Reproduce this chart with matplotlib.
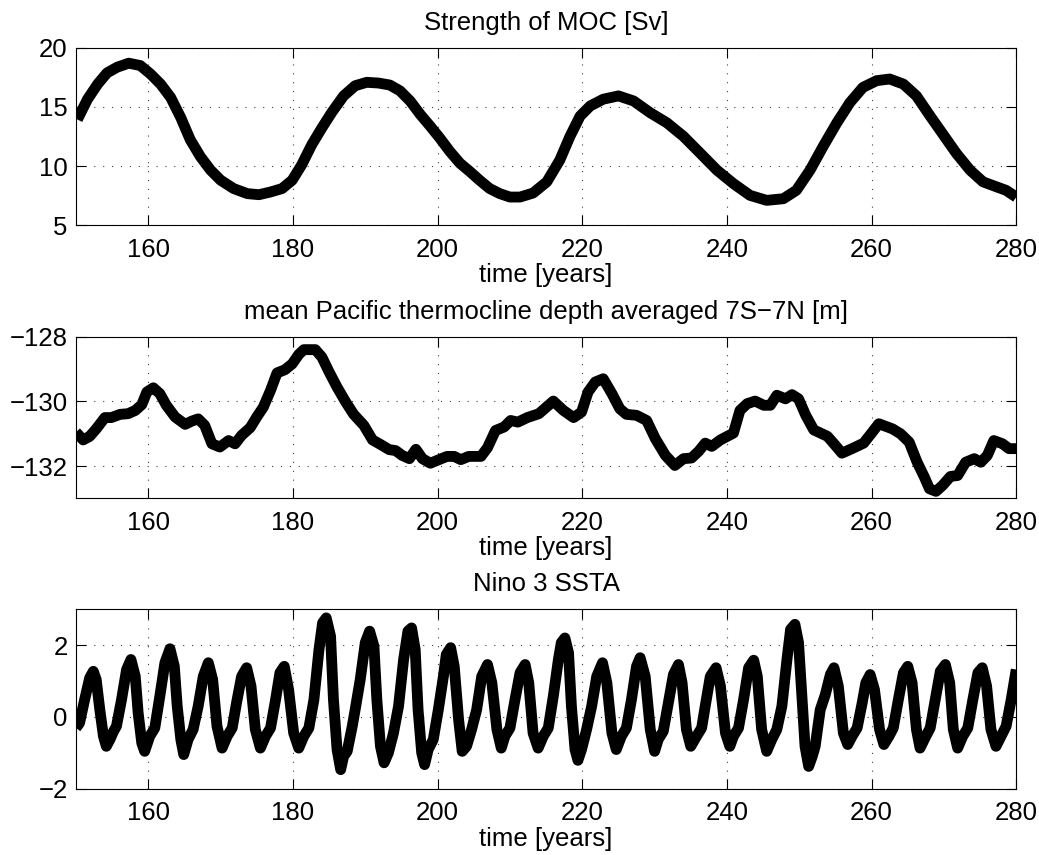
import matplotlib.pyplot as plt

plt.rcParams['font.family'] = ['Liberation Sans', 'DejaVu Sans']

# Strength of MOC [Sv]
moc_years = [150.2, 151.6, 153.0, 154.3, 155.7, 157.3, 158.9, 160.3, 161.7, 163.1,
             164.5, 165.8, 167.2, 168.6, 170.0, 171.8, 173.7, 175.3, 176.9, 178.5,
             179.9, 181.2, 182.6, 184.0, 185.4, 187.0, 188.6, 190.2, 191.8, 193.4,
             194.8, 196.2, 197.6, 198.9, 200.3, 201.7, 203.1, 204.5, 205.8, 207.2,
             208.6, 210.0, 211.4, 213.2, 215.1, 216.9, 218.3, 219.7, 221.1, 222.9,
             225.0, 227.1, 229.4, 231.7, 234.0, 236.3, 238.6, 240.9, 243.2, 245.5,
             247.8, 249.6, 251.5, 253.3, 255.2, 257.0, 258.8, 260.7, 262.5, 264.4,
             266.2, 268.1, 269.9, 271.7, 273.6, 275.4, 277.3, 278.6, 280.0]
moc_vals = [13.94, 15.66, 16.94, 17.89, 18.37, 18.71, 18.51, 17.8, 16.94, 15.8,
            14.09, 12.23, 10.8, 9.66, 8.8, 8.09, 7.66, 7.57, 7.8, 8.09,
            8.8, 10.09, 11.8, 13.23, 14.57, 15.94, 16.8, 17.09, 17.03, 16.86,
            16.37, 15.51, 14.37, 13.43, 12.37, 11.23, 10.23, 9.51, 8.8, 8.09,
            7.66, 7.37, 7.37, 7.71, 8.66, 10.51, 12.51, 14.23, 15.09, 15.66,
            15.94, 15.51, 14.51, 13.66, 12.51, 11.09, 9.66, 8.51, 7.51, 7.09,
            7.23, 7.94, 9.66, 11.66, 13.66, 15.37, 16.66, 17.23, 17.37, 16.94,
            15.94, 14.23, 12.66, 11.09, 9.66, 8.66, 8.23, 7.94, 7.37]

# mean Pacific thermocline depth averaged 7S-7N [m]
thc_years = [150.0, 151.0, 151.9, 152.8, 154.0, 154.9, 156.1, 157.2, 158.2, 159.1,
             159.8, 160.7, 161.6, 162.5, 163.7, 165.1, 166.0, 166.9, 167.8, 168.8,
             169.9, 171.1, 172.0, 172.9, 174.1, 175.0, 175.9, 176.9, 177.8, 178.9,
             179.9, 180.8, 181.5, 183.1, 184.0, 185.0, 186.1, 187.3, 188.4, 189.8,
             191.0, 192.1, 193.3, 194.2, 195.1, 196.1, 197.0, 197.9, 199.0, 200.2,
             201.3, 202.3, 203.2, 204.3, 206.0, 206.9, 208.0, 209.2, 210.1, 211.1,
             212.4, 214.0, 216.0, 217.4, 218.8, 219.9, 220.8, 221.8, 222.9, 224.1,
             225.2, 226.1, 227.5, 228.9, 230.1, 231.5, 232.8, 234.0, 235.1, 236.1,
             237.0, 237.9, 239.1, 240.9, 241.8, 242.8, 243.9, 245.1, 246.0, 246.9,
             248.1, 249.0, 249.9, 250.9, 252.0, 253.9, 254.8, 255.9, 257.3, 258.9,
             260.1, 261.0, 262.9, 264.0, 265.2, 266.3, 267.3, 268.0, 268.9, 269.8,
             270.9, 271.9, 273.0, 274.2, 275.1, 276.0, 276.9, 278.1, 279.0, 280.0]
thc_vals = [-130.95, -131.19, -131.08, -130.85, -130.5, -130.5, -130.4, -130.38, -130.28, -130.1,
            -129.71, -129.58, -129.76, -130.12, -130.48, -130.71, -130.61, -130.54, -130.74, -131.31,
            -131.41, -131.21, -131.31, -131.05, -130.81, -130.48, -130.18, -129.66, -129.12, -129.02,
            -128.84, -128.55, -128.40, -128.40, -128.63, -129.09, -129.56, -130.02, -130.40, -130.74,
            -131.19, -131.33, -131.49, -131.52, -131.67, -131.77, -131.48, -131.77, -131.91, -131.8,
            -131.7, -131.7, -131.8, -131.7, -131.7, -131.43, -130.9, -130.79, -130.59, -130.64,
            -130.5, -130.38, -129.99, -130.28, -130.5, -130.33, -129.71, -129.4, -129.3, -129.76,
            -130.23, -130.4, -130.43, -130.59, -131.15, -131.67, -131.98, -131.77, -131.75, -131.54,
            -131.29, -131.39, -131.19, -130.98, -130.28, -130.07, -129.99, -130.12, -130.12, -129.81,
            -129.92, -129.79, -129.92, -130.43, -130.88, -131.08, -131.31, -131.6, -131.46, -131.29,
            -130.95, -130.69, -130.85, -131.0, -131.26, -131.88, -132.34, -132.7, -132.78, -132.6,
            -132.32, -132.29, -131.88, -131.77, -131.88, -131.67, -131.21, -131.31, -131.46, -131.46]

# Nino 3 SSTA
nino_years = [150.0, 150.5, 151.2, 151.9, 152.4, 152.8, 153.3, 153.8, 154.2, 154.7,
              155.2, 155.6, 156.3, 157.0, 157.6, 158.2, 158.6, 159.1, 159.5, 160.2,
              160.9, 161.6, 162.3, 163.0, 163.6, 164.0, 164.5, 164.9, 165.5, 166.2,
              166.9, 167.6, 168.3, 168.9, 169.5, 170.2, 170.9, 171.6, 172.2, 172.9,
              173.6, 174.2, 174.8, 175.5, 176.2, 176.9, 177.6, 178.2, 178.8, 179.4,
              180.1, 180.8, 181.5, 182.2, 182.9, 183.6, 184.1, 184.6, 185.2, 185.6,
              186.1, 186.6, 187.0, 187.5, 188.2, 188.6, 189.3, 190.0, 190.6, 191.2,
              191.6, 192.1, 192.6, 193.2, 193.9, 194.6, 195.3, 195.9, 196.4, 196.9,
              197.3, 197.8, 198.2, 198.7, 199.4, 200.1, 200.8, 201.2, 201.8, 202.3,
              202.9, 203.4, 204.0, 204.7, 205.4, 206.1, 206.9, 207.5, 208.2, 208.8,
              209.3, 210.0, 210.7, 211.4, 212.1, 212.6, 213.2, 213.9, 214.6, 215.3,
              216.0, 216.7, 217.1, 217.6, 218.1, 218.5, 219.0, 219.4, 219.9, 220.6,
              221.3, 222.0, 222.8, 223.4, 224.1, 224.7, 225.4, 226.1, 226.8, 227.5,
              228.0, 228.7, 229.4, 230.0, 230.5, 231.2, 231.9, 232.6, 233.3, 233.8,
              234.4, 235.0, 235.8, 236.5, 237.0, 237.7, 238.5, 239.1, 239.8, 240.4,
              240.9, 241.6, 242.3, 243.0, 243.7, 244.2, 244.8, 245.5, 246.2, 246.9,
              247.6, 248.3, 248.8, 249.4, 249.9, 250.4, 250.8, 251.3, 251.8, 252.2,
              252.9, 253.6, 254.3, 254.8, 255.4, 256.1, 256.7, 257.3, 258.0, 258.7,
              259.2, 259.8, 260.4, 261.1, 261.7, 262.4, 263.0, 263.7, 264.4, 265.0,
              265.6, 266.2, 266.7, 267.4, 268.1, 268.8, 269.5, 270.2, 270.8, 271.3,
              271.9, 272.6, 273.3, 274.0, 274.7, 275.3, 275.9, 276.5, 277.2, 277.9,
              278.6, 279.3, 280.0]
nino_vals = [-0.31, -0.17, 0.48, 1.09, 1.27, 1.04, 0.2, -0.54, -0.82, -0.63,
             -0.4, -0.26, 0.48, 1.32, 1.6, 1.13, 0.11, -0.73, -0.96, -0.54,
             -0.31, 0.58, 1.51, 1.9, 1.41, 0.3, -0.63, -1.05, -0.63, -0.35,
             0.3, 1.13, 1.51, 1.04, -0.26, -0.87, -0.54, -0.31, 0.39, 1.13,
             1.37, 0.86, -0.35, -0.87, -0.54, -0.31, 0.48, 1.23, 1.41, 0.76,
             -0.45, -0.87, -0.54, -0.31, 0.48, 1.88, 2.62, 2.76, 2.25, 0.48,
             -0.91, -1.47, -1.1, -0.96, -0.26, 0.2, 1.04, 2.07, 2.39, 1.97,
             0.48, -0.82, -1.28, -1.0, -0.45, 0.3, 1.6, 2.39, 2.48, 1.88,
             0.2, -1.0, -1.33, -0.91, -0.63, 0.2, 1.13, 1.74, 1.93, 1.41,
             -0.07, -0.96, -0.82, -0.35, 0.2, 1.13, 1.46, 0.95, -0.35, -0.87,
             -0.54, -0.31, 0.48, 1.23, 1.46, 0.95, -0.45, -0.87, -0.54, -0.31,
             0.58, 1.6, 2.07, 2.2, 1.79, 0.3, -0.91, -1.21, -0.91, -0.35,
             0.3, 1.13, 1.51, 0.95, -0.45, -0.91, -0.54, -0.31, 0.48, 1.41,
             1.65, 1.13, -0.35, -0.96, -0.63, -0.4, 0.39, 1.18, 1.46, 0.95,
             -0.35, -0.82, -0.54, -0.31, 0.3, 1.13, 1.37, 0.86, -0.45, -0.82,
             -0.54, -0.31, 0.48, 1.37, 1.58, 1.13, -0.35, -0.96, -0.63, -0.35,
             0.3, 1.6, 2.44, 2.58, 2.07, 0.48, -0.82, -1.38, -1.1, -0.82,
             0.2, 0.62, 1.18, 1.37, 0.86, -0.45, -0.77, -0.54, -0.31, 0.39,
             0.95, 1.18, 0.76, -0.35, -0.77, -0.54, -0.31, 0.48, 1.23, 1.41,
             0.95, -0.35, -0.87, -0.58, -0.31, 0.48, 1.27, 1.46, 0.95, -0.35,
             -0.87, -0.54, -0.31, 0.48, 1.23, 1.37, 0.86, -0.35, -0.82, -0.54,
             -0.26, 0.48, 1.32]

titles = ['Strength of MOC [Sv]',
          'mean Pacific thermocline depth averaged 7S\u22127N [m]',
          'Nino 3 SSTA']
xticks = [160, 180, 200, 220, 240, 260, 280]
yticks = [[5, 10, 15, 20], [-132, -130, -128], [-2, 0, 2]]
ylims = [(5, 20), (-133, -128), (-2, 3)]

fig = plt.figure(figsize=(10.39, 8.55), dpi=100)
rects = [[0.0731, 0.7368, 0.905, 0.2071],
         [0.0731, 0.4170, 0.905, 0.1892],
         [0.0731, 0.0776, 0.905, 0.2098]]
series = [(moc_years, moc_vals), (thc_years, thc_vals), (nino_years, nino_vals)]

fs = 18.5
for i in range(3):
    ax = fig.add_axes(rects[i])
    x, y = series[i]
    ax.plot(x, y, color='black', lw=7.8, solid_joinstyle='round', solid_capstyle='butt')
    ax.set_xlim(150, 280)
    ax.set_ylim(*ylims[i])
    ax.set_xticks(xticks)
    ax.set_yticks(yticks[i])
    ax.yaxis.set_major_formatter(plt.FuncFormatter(lambda v, p: f'{v:g}'.replace('-', '\u2212')))
    ax.tick_params(direction='in', length=7, width=0.8, top=True, right=True,
                   labelsize=fs, colors='black')
    ax.tick_params(axis='x', pad=9)
    ax.tick_params(axis='y', pad=6)
    ax.grid(True, color='0.25', linestyle=(0, (1, 7)), linewidth=0.8)
    for s in ax.spines.values():
        s.set_linewidth(0.8)
    ax.set_title(titles[i], fontsize=fs, pad=13)
    ax.set_xlabel('time [years]', fontsize=fs, labelpad=1)

fig.savefig('out.png', dpi=100)
